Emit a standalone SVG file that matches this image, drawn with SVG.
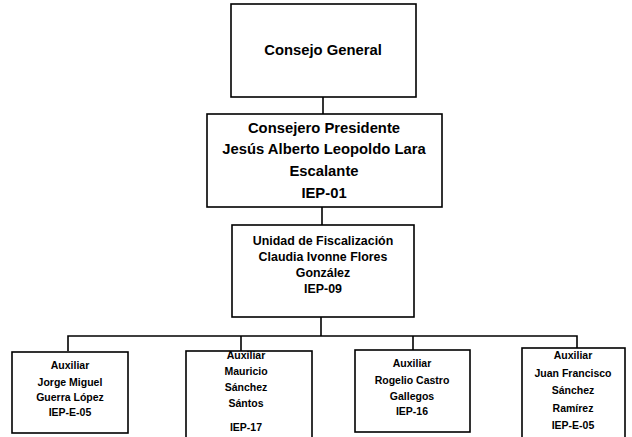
<svg xmlns="http://www.w3.org/2000/svg" width="632" height="437" viewBox="0 0 632 437">
<style>
.box{fill:#fff;stroke:#000;stroke-width:1.6}
.con{fill:none;stroke:#000;stroke-width:1.6}
text{font-family:"Liberation Sans",Arial,sans-serif;font-weight:bold;fill:#000;text-anchor:middle}
.big{font-size:14.8px}
.mid{font-size:12.4px}
.sm{font-size:10.5px}
</style>
<rect width="632" height="437" fill="#fff"/>
<g id="connectors">
<line class="con" x1="323" y1="97" x2="323" y2="114"/>
<line class="con" x1="322" y1="207" x2="322" y2="225"/>
<line class="con" x1="321" y1="317" x2="321" y2="336"/>
<polyline class="con" points="68,351 68,336 577,336 577,348"/>
<line class="con" x1="241" y1="336" x2="241" y2="351"/>
<line class="con" x1="413" y1="336" x2="413" y2="350"/>
</g>
<g id="n1">
<rect class="box" x="231" y="4" width="185" height="93"/>
<text class="big" x="323" y="55">Consejo General</text>
</g>
<g id="n2">
<rect class="box" x="207" y="114" width="235" height="93"/>
<text class="big" x="324" y="133">Consejero Presidente</text>
<text class="big" x="324" y="154">Jesús Alberto Leopoldo Lara</text>
<text class="big" x="324" y="176">Escalante</text>
<text class="big" x="324" y="198">IEP-01</text>
</g>
<g id="n3">
<rect class="box" x="232" y="225" width="182" height="92"/>
<text class="mid" x="323" y="245">Unidad de Fiscalización</text>
<text class="mid" x="323" y="261">Claudia Ivonne Flores</text>
<text class="mid" x="323" y="277">González</text>
<text class="mid" x="323" y="293">IEP-09</text>
</g>
<g id="n4">
<rect class="box" x="12" y="352" width="116" height="81"/>
<text class="sm" x="70" y="369">Auxiliar</text>
<text class="sm" x="70" y="386">Jorge Miguel</text>
<text class="sm" x="70" y="401">Guerra López</text>
<text class="sm" x="70" y="416">IEP-E-05</text>
</g>
<g id="n5">
<rect class="box" x="186" y="351" width="126" height="90"/>
<text class="sm" x="246" y="359">Auxiliar</text>
<text class="sm" x="246" y="375">Mauricio</text>
<text class="sm" x="246" y="391">Sánchez</text>
<text class="sm" x="246" y="407">Sántos</text>
<text class="sm" x="246" y="431">IEP-17</text>
</g>
<g id="n6">
<rect class="box" x="355" y="350" width="115" height="82"/>
<text class="sm" x="412" y="367">Auxiliar</text>
<text class="sm" x="412" y="384">Rogelio Castro</text>
<text class="sm" x="412" y="400">Gallegos</text>
<text class="sm" x="412" y="415">IEP-16</text>
</g>
<g id="n7">
<rect class="box" x="522" y="348" width="103" height="92"/>
<text class="sm" x="573" y="359">Auxiliar</text>
<text class="sm" x="573" y="377">Juan Francisco</text>
<text class="sm" x="573" y="394">Sánchez</text>
<text class="sm" x="573" y="412">Ramírez</text>
<text class="sm" x="573" y="429">IEP-E-05</text>
</g>
</svg>
